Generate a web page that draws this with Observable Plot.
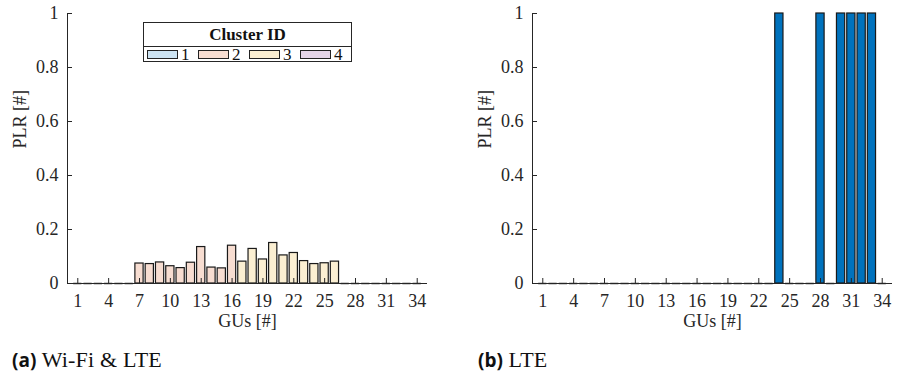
<!DOCTYPE html>
<html>
<head>
<meta charset="utf-8">
<script src="https://cdn.jsdelivr.net/npm/d3@7"></script>
<script src="https://cdn.jsdelivr.net/npm/@observablehq/plot@0.6"></script>
<style>
  body { margin: 0; background: #fff; }
  #wrap { position: relative; width: 899px; height: 385px; overflow: hidden; background: #fff; }
  .panel { position: absolute; top: 0; }
  .legend {
    position: absolute; box-sizing: border-box; border: 1px solid #262626; background: #fff;
    font-family: "Liberation Serif"; color: #111;
  }
  .legend .title { font-weight: bold; font-size: 17px; text-align: center; height: 23px; line-height: 23px; border-bottom: 1px solid #262626; }
  .legend .items { display: flex; align-items: center; height: 15px; padding-left: 3px; font-size: 17px; }
  .legend .sw { width: 31px; height: 9px; border: 1px solid #222; box-sizing: border-box; flex: none; }
  .legend .lab { width: 17px; margin-left: 3px; line-height: 15px; flex: none; }
  .caption { position: absolute; top: 347px; font-size: 22px; font-family: "Liberation Serif"; color: #111; white-space: nowrap; letter-spacing: 0.2px; }
  .caption b { font-family: "Open Sans"; font-weight: bold; font-size: 19px; letter-spacing: 0; }
</style>
</head>
<body>
<div id="wrap">
  <div id="panelA" class="panel" style="left:0"></div>
  <div id="panelB" class="panel" style="left:465px"></div>
  <div id="legendA" class="legend" style="left:143px; top:22px; width:209px; height:40px;"></div>
  <div class="caption" style="left:12px"><b>(a)</b> Wi-Fi &amp; LTE</div>
  <div class="caption" style="left:478px"><b>(b)</b> LTE</div>
</div>
<script>
// Ground users, their cluster and the packet loss ratio per user
const gus = [1, 2, 3, 4, 5, 6, 7, 8, 9, 10, 11, 12, 13, 14, 15, 16, 17,
             18, 19, 20, 21, 22, 23, 24, 25, 26, 27, 28, 29, 30, 31, 32, 33, 34];
const clusterOfGu = [1, 1, 1, 1, 1, 1, 2, 2, 2, 2, 2, 2, 2, 2, 2, 2, 3,
                     3, 3, 3, 3, 3, 3, 3, 3, 3, 4, 4, 4, 4, 4, 4, 4, 4];
const plrWifiLte = [0, 0, 0, 0, 0, 0, 0.074, 0.072, 0.078, 0.064, 0.057, 0.077, 0.135, 0.059, 0.056, 0.140, 0.081,
                    0.128, 0.089, 0.150, 0.104, 0.113, 0.083, 0.072, 0.075, 0.081, 0, 0, 0, 0, 0, 0, 0, 0];
const plrLte = [0, 0, 0, 0, 0, 0, 0, 0, 0, 0, 0, 0, 0, 0, 0, 0, 0,
                0, 0, 0, 0, 0, 0, 1, 0, 0, 0, 1, 0, 1, 1, 1, 1, 0];

const clusterIds = [1, 2, 3, 4];
const clusterColors = ["#0072BD", "#D95319", "#EDB120", "#7E2F8E"];
const lteColor = "#0072BD";

const xTicks = [1, 4, 7, 10, 13, 16, 19, 22, 25, 28, 31, 34];
const yTicks = [0, 0.2, 0.4, 0.6, 0.8, 1];
const xDomain = [0, 35];
const yDomain = [0, 1];

const axisColor = "#262626";
const barHalfWidth = 0.4;

function panel(values, fillOf, fillOpacity, width) {
  const rows = gus.map((gu, i) => ({gu, v: values[i], cluster: clusterOfGu[i]}));
  const bars = rows.filter(d => d.v > 0);
  const flat = rows.filter(d => d.v === 0);
  return Plot.plot({
    width,
    height: 340,
    marginLeft: 67,
    marginRight: width - 427,
    marginTop: 13,
    marginBottom: 57,
    x: {domain: xDomain},
    y: {domain: yDomain},
    style: {fontFamily: "Liberation Serif", fontSize: "18px", color: axisColor, background: "white", overflow: "visible"},
    marks: [
      Plot.rect(bars, {
        x1: d => d.gu - barHalfWidth, x2: d => d.gu + barHalfWidth,
        y1: 0, y2: "v",
        fill: fillOf, fillOpacity, stroke: "#1a1a1a", strokeWidth: 1.2
      }),
      Plot.ruleY(flat, {y: 0, x1: d => d.gu - barHalfWidth, x2: d => d.gu + barHalfWidth, stroke: "#555", strokeWidth: 1.6}),
      Plot.ruleY([0], {stroke: axisColor, strokeWidth: 1}),
      Plot.ruleX([0], {y1: 0, y2: 1, stroke: axisColor, strokeWidth: 1}),
      Plot.axisX(xTicks, {tickSize: -5, tickPadding: 16, label: null, tickFormat: d => String(d), stroke: axisColor}),
      Plot.axisY(yTicks, {tickSize: -5, tickPadding: 14, label: null, tickFormat: d => String(d), stroke: axisColor}),
      Plot.text(["GUs [#]"], {text: d => d, frameAnchor: "bottom", dy: 43, fill: axisColor}),
      Plot.text(["PLR [#]"], {text: d => d, frameAnchor: "left", dx: -47, rotate: -90, fill: axisColor})
    ]
  });
}

document.getElementById("panelA").append(
  panel(plrWifiLte, d => clusterColors[d.cluster - 1], 0.2, 450)
);
document.getElementById("panelB").append(
  panel(plrLte, () => lteColor, 1, 434)
);

// Cluster legend
const legend = d3.select("#legendA");
legend.append("div").attr("class", "title").text("Cluster ID");
const items = legend.append("div").attr("class", "items");
clusterIds.forEach((id, i) => {
  items.append("div").attr("class", "sw")
    .style("background", d3.interpolateRgb("#ffffff", clusterColors[i])(0.2));
  items.append("div").attr("class", "lab").text(String(id));
});
</script>
</body>
</html>
